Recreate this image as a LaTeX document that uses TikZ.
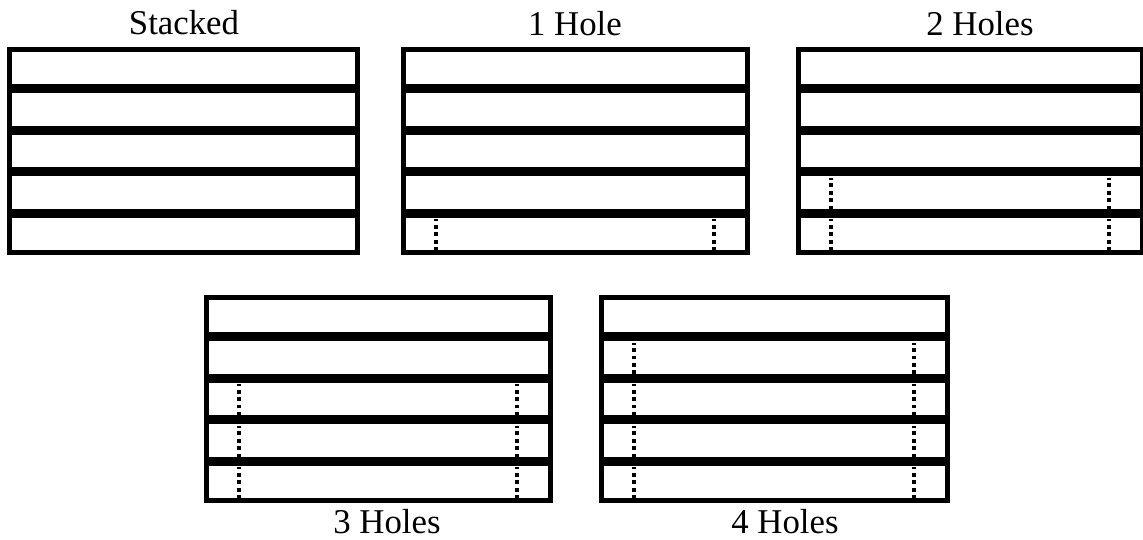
\documentclass[tikz,border=0pt]{standalone}
\usepackage{fontspec}
\setmainfont{Liberation Serif}
\usepackage{tikz}
\usetikzlibrary{calc}
\tikzset{
	layer/.style    ={draw=black, line width=2.6pt, fill=white},
	hole/.style     ={draw=black, line width=2.5pt, dash pattern=on 2.2pt off 2pt},
	title/.style    ={anchor=base, inner sep=0pt, font=\fontsize{19.8}{24}\selectfont},
}
% one stacked panel: x, y of top left corner, width, number of drilled layers
\newcommand{\stackpanel}[4]{%
	\foreach \k in {0,...,4}{
		\draw[layer] ({#1+2.3},{#2+41.6*\k+2.3}) rectangle ({#1+#3-2.3},{#2+41.6*(\k+1)-2.3});
	}
	\ifnum#4>0
	\foreach \k in {1,...,#4}{
		\draw[hole] ({#1+35},{#2+41.6*(5-\k+1)-4}) -- ({#1+35},{#2+41.6*(5-\k)+6});
		\draw[hole] ({#1+#3-36},{#2+41.6*(5-\k+1)-4}) -- ({#1+#3-36},{#2+41.6*(5-\k)+6});
	}
	\fi
}
\begin{document}
\begin{tikzpicture}[x=0.02cm, y=-0.02cm]
	\useasboundingbox (0,0) rectangle (1143,540);
	\fill[white] (0,0) rectangle (1143,540);
	% top row
	\stackpanel{7}{47}{353}{0}
	\stackpanel{401}{47}{349}{1}
	\stackpanel{796}{47}{349}{2}
	% bottom row
	\stackpanel{204}{295}{349}{3}
	\stackpanel{599}{295}{351}{4}
	% titles
	\node[title] (tStack) at (184,35) {Stacked};
	\node[title] (tOne) at (575,36) {1 Hole};
	\node[title] (tTwo) at (980,36) {2 Holes};
	\node[title] (tThree) at (387,533) {3 Holes};
	\node[title] (tFour) at (785,533) {4 Holes};
\end{tikzpicture}
\end{document}
